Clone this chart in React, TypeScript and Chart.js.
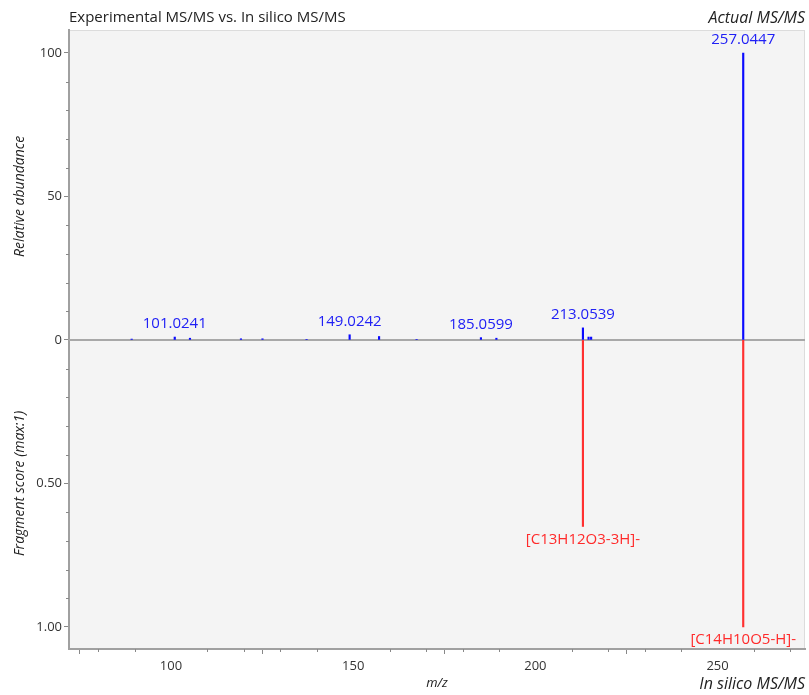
import React, { useEffect, useRef } from "react";
import { Chart, registerables } from "chart.js";

Chart.register(...registerables);

// Experimental MS/MS (top, relative abundance %)
const expMz = [89.2, 101.0241, 105.2, 119.2, 125.1, 137.2, 149.0242, 157.1, 167.4, 185.0599, 189.3, 213.0539, 214.6, 215.3, 257.0447];
const expAbundance = [0.3, 1.0, 0.6, 0.4, 0.4, 0.2, 1.8, 1.2, 0.2, 0.8, 0.6, 4.2, 1.0, 1.0, 100];
const expLabeled = [101.0241, 149.0242, 185.0599, 213.0539, 257.0447];

// In silico MS/MS (bottom, fragment score max 1)
const silicoMz = [213.0539, 257.0447];
const silicoScore = [0.65, 1.0];
const silicoLabels = ["[C13H12O3-3H]-", "[C14H10O5-H]-"];

// Axis ticks
const xTicks = [100, 150, 200, 250];
const yTopTicks = [0, 50, 100];
const yBottomTicks = [0.5, 1.0];
const xMin = 72;
const xMax = 274;

const FONT = "'Open Sans', 'Noto Sans', sans-serif";

export default function App() {
  const ref = useRef<HTMLCanvasElement | null>(null);

  useEffect(() => {
    const canvas = ref.current;
    if (!canvas) return;

    const decor = {
      id: "decor",
      beforeDraw(chart: any) {
        const { ctx, chartArea: a } = chart;
        ctx.save();
        ctx.fillStyle = "#f4f4f4";
        ctx.fillRect(a.left, a.top, a.right - a.left, a.bottom - a.top);
        ctx.strokeStyle = "#dcdcdc";
        ctx.lineWidth = 1;
        ctx.strokeRect(a.left + 0.5, a.top + 0.5, a.right - a.left - 1, a.bottom - a.top - 1);
        ctx.restore();
      },
      beforeDatasetsDraw(chart: any) {
        const { ctx, chartArea: a } = chart;
        const y0 = chart.scales.y.getPixelForValue(0);
        ctx.save();
        ctx.strokeStyle = "#a8a8a8";
        ctx.lineWidth = 2;
        ctx.beginPath();
        ctx.moveTo(a.left, y0);
        ctx.lineTo(a.right, y0);
        ctx.stroke();
        ctx.restore();
      },
      afterDraw(chart: any) {
        const { ctx, chartArea: a } = chart;
        const xs = chart.scales.x;
        const ys = chart.scales.y;
        ctx.save();
        // minor ticks
        ctx.strokeStyle = "#888";
        ctx.lineWidth = 1;
        for (let v = 80; v <= 270; v += 10) {
          if (v % 50 === 0) continue;
          const px = Math.round(xs.getPixelForValue(v)) + 0.5;
          ctx.beginPath();
          ctx.moveTo(px, a.bottom);
          ctx.lineTo(px, a.bottom + 3);
          ctx.stroke();
        }
        for (let v = -90; v <= 90; v += 10) {
          if (v % 50 === 0) continue;
          const py = Math.round(ys.getPixelForValue(v)) + 0.5;
          ctx.beginPath();
          ctx.moveTo(a.left - 3, py);
          ctx.lineTo(a.left, py);
          ctx.stroke();
        }

        // peak labels, experimental
        ctx.font = `15px ${FONT}`;
        ctx.textAlign = "center";
        ctx.textBaseline = "middle";
        ctx.fillStyle = "#2020f5";
        const m0 = chart.getDatasetMeta(0);
        m0.data.forEach((el: any, i: number) => {
          if (expLabeled.indexOf(expMz[i]) < 0) return;
          ctx.fillText(expMz[i].toFixed(4), el.x, el.y - 13);
        });
        // in silico labels
        ctx.fillStyle = "#ff2a2a";
        const m1 = chart.getDatasetMeta(1);
        m1.data.forEach((el: any, i: number) => {
          ctx.fillText(silicoLabels[i], el.x, el.y + 13);
        });

        // titles
        ctx.fillStyle = "#222";
        ctx.font = `15px ${FONT}`;
        ctx.textAlign = "left";
        ctx.fillText("Experimental MS/MS vs. In silico MS/MS", a.left, 18);
        ctx.font = `italic 16px ${FONT}`;
        ctx.textAlign = "right";
        ctx.fillText("Actual MS/MS", a.right, 18);
        ctx.fillText("In silico MS/MS", a.right, 684);
        ctx.font = `italic 13px ${FONT}`;
        ctx.textAlign = "center";
        ctx.fillText("m/z", xs.getPixelForValue((xMin + xMax) / 2), 683);

        // y titles
        ctx.font = `italic 14px ${FONT}`;
        const yt1 = ys.getPixelForValue(50);
        const yt2 = ys.getPixelForValue(-50);
        ctx.translate(20, yt1);
        ctx.rotate(-Math.PI / 2);
        ctx.fillText("Relative abundance", 0, 0);
        ctx.rotate(Math.PI / 2);
        ctx.translate(0, yt2 - yt1);
        ctx.rotate(-Math.PI / 2);
        ctx.fillText("Fragment score (max:1)", 0, 0);
        ctx.restore();
      },
    };

    const chart = new Chart(canvas, {
      type: "bar",
      data: {
        datasets: [
          {
            data: expMz.map((m, i) => ({ x: m, y: expAbundance[i] })),
            backgroundColor: "#0a0aff",
            barThickness: 1.5,
            grouped: false,
          } as any,
          {
            data: silicoMz.map((m, i) => ({ x: m, y: -silicoScore[i] * 100 })),
            backgroundColor: "#ff3030",
            barThickness: 1.5,
            grouped: false,
          } as any,
        ],
      },
      options: {
        responsive: false,
        animation: false,
        devicePixelRatio: 1,
        layout: { padding: { top: 30, right: 4, left: 0, bottom: 0 } },
        plugins: { legend: { display: false }, tooltip: { enabled: false }, title: { display: false } },
        scales: {
          x: {
            type: "linear",
            min: xMin,
            max: xMax,
            offset: false,
            afterFit: (s: any) => { s.height = 46; },
            afterBuildTicks: (s: any) => { s.ticks = xTicks.map((v) => ({ value: v })); },
            ticks: { font: { family: FONT, size: 13 }, color: "#333", padding: 4, maxRotation: 0 },
            grid: { drawOnChartArea: false, drawTicks: true, tickLength: 5, color: "#888" },
            border: { display: true, color: "#a0a0a0", width: 2 },
          },
          y: {
            type: "linear",
            min: -107.7,
            max: 108,
            afterFit: (s: any) => { s.width = 69; },
            afterBuildTicks: (s: any) => {
              const vals = [...yBottomTicks.map((v) => -v * 100), ...yTopTicks];
              s.ticks = vals.map((v) => ({ value: v }));
            },
            ticks: {
              font: { family: FONT, size: 13 },
              color: "#333",
              padding: 2,
              callback: (v: any) => (v >= 0 ? String(v) : (-v / 100).toFixed(2)),
            },
            grid: { drawOnChartArea: false, drawTicks: true, tickLength: 5, color: "#888" },
            border: { display: true, color: "#a0a0a0", width: 2 },
          },
        },
      },
      plugins: [decor],
    } as any);

    return () => chart.destroy();
  }, []);

  return (
    <div style={{ position: "fixed", left: 0, top: 0, width: 809, height: 695, background: "#fff" }}>
      <canvas ref={ref} width={809} height={695} style={{ width: 809, height: 695, display: "block" }} />
    </div>
  );
}
